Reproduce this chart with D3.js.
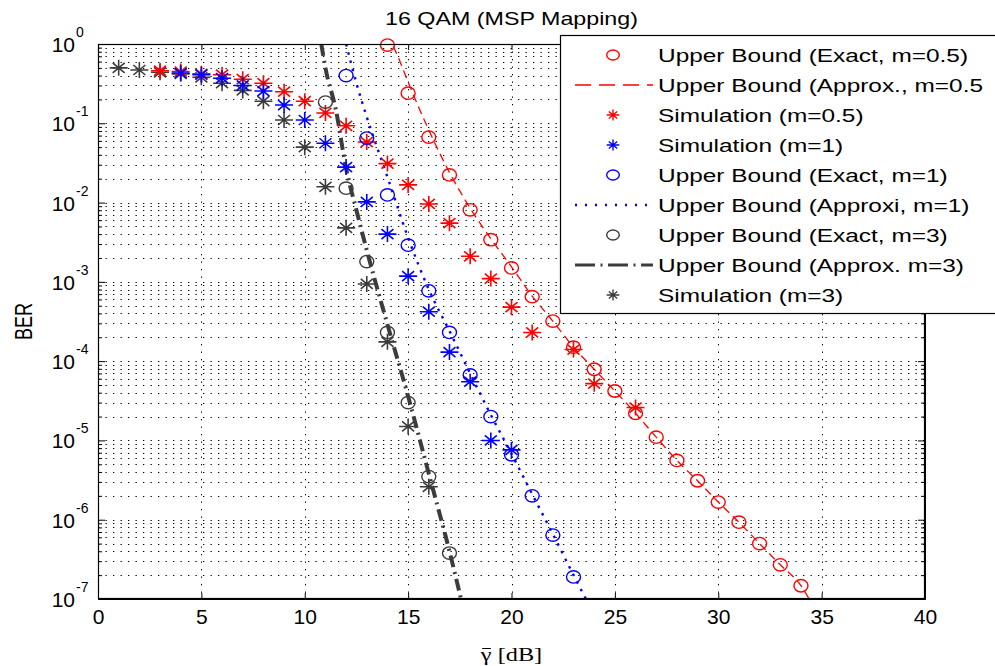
<!DOCTYPE html>
<html><head><meta charset="utf-8">
<script src="https://cdn.jsdelivr.net/npm/d3@7"></script>
<style>html,body{margin:0;padding:0;background:#fff;} svg{display:block;}</style>
</head><body><svg id="c" width="995" height="666"></svg>
<script>
// ---------- data ----------
const xTicks = [0, 5, 10, 15, 20, 25, 30, 35, 40];
const yExponents = [0, -1, -2, -3, -4, -5, -6, -7];
const minorMultipliers = [2, 3, 4, 5, 6, 7, 8, 9];

const snrExact05 = [14,15,16,17,18,19,20,21,22,23,24,25,26,27,28,29,30,31,32,33,34];
const berExact05 = [0.97,0.24,0.067,0.0223,0.0081,0.0034,0.0015,6.5e-4,3.2e-4,1.5e-4,7.9e-5,4.2e-5,2.2e-5,1.1e-5,5.6e-6,3.1e-6,1.67e-6,9.3e-7,5.0e-7,2.7e-7,1.47e-7];

const snrApprox05 = [14,14.5,15,16,17,18,19,20,21,22,23,24,25,26,27,28,29,30,31,32,33,34,34.6];
const berApprox05 = [1.3,0.7,0.33,0.082,0.024,0.0085,0.0035,0.00155,6.6e-4,3.2e-4,1.5e-4,7.9e-5,4.2e-5,2.2e-5,1.1e-5,5.6e-6,3.1e-6,1.67e-6,9.3e-7,5.0e-7,2.7e-7,1.47e-7,8e-8];

const snrSim05 = [3,4,5,6,7,8,9,10,11,12,13,14,15,16,17,18,19,20,21,23,24,26];
const berSim05 = [0.46,0.45,0.42,0.41,0.36,0.32,0.25,0.19,0.135,0.093,0.058,0.031,0.0167,0.0096,0.0055,0.0021,0.0011,4.8e-4,2.3e-4,1.4e-4,5.2e-5,2.6e-5];

const snrSim1 = [4,5,6,7,8,9,10,11,12,13,14,15,16,17,18,19,20];
const berSim1 = [0.43,0.41,0.37,0.30,0.255,0.17,0.11,0.056,0.028,0.0102,0.0040,0.00118,4.2e-4,1.3e-4,5.5e-5,1.0e-5,7.6e-6];

const snrExact1 = [12,13,14,15,16,17,18,19,20,21,22,23];
const berExact1 = [0.40,0.065,0.0125,0.0029,7.7e-4,2.3e-4,6.7e-5,2.0e-5,6.6e-6,2.0e-6,6.4e-7,1.9e-7];

const snrApprox1 = [12,12.5,13,14,15,16,17,18,19,20,21,22,23,23.6];
const berApprox1 = [1.0,0.32,0.12,0.021,0.0036,8e-4,2.4e-4,7e-5,2.1e-5,6.8e-6,2.1e-6,6.6e-7,2e-7,1e-7];

const snrExact3 = [11,12,13,14,15,16,17];
const berExact3 = [0.185,0.0152,0.0018,2.3e-4,3.0e-5,3.5e-6,3.8e-7];

const snrApprox3 = [10.8,11,11.5,12,12.5,13,14,15,16,17,17.6];
const berApprox3 = [1.0,0.5,0.15,0.027,0.008,0.0025,2.9e-4,3.6e-5,3.8e-6,4e-7,9e-8];

const snrSim3 = [1,2,3,4,5,6,7,8,9,10,11,12,13,14,15,16];
const berSim3 = [0.50,0.47,0.44,0.42,0.38,0.32,0.26,0.19,0.11,0.050,0.0158,0.0048,9.4e-4,1.75e-4,1.5e-5,2.6e-6];

const legendLabels = [
  "Upper Bound (Exact, m=0.5)",
  "Upper Bound (Approx., m=0.5",
  "Simulation (m=0.5)",
  "Simulation (m=1)",
  "Upper Bound (Exact, m=1)",
  "Upper Bound (Approxi, m=1)",
  "Upper Bound (Exact, m=3)",
  "Upper Bound (Approx. m=3)",
  "Simulation (m=3)"
];
const titleText = "16 QAM (MSP Mapping)";
const xLabelSymbol = "\u03B3";
const xLabelUnit = " [dB]";
const yLabelText = "BER";

// ---------- setup ----------
const RED = "#ff0000", BLUE = "#0000ff", GRAY = "#3c3c3c";
const SANS = "'Liberation Sans', Arial, sans-serif";
const SERIF = "'Liberation Serif','DejaVu Serif',serif";
const svg = d3.select("#c");
const M = {left: 98, right: 925, top: 44, bottom: 599};
const x = d3.scaleLinear().domain([0, 40]).range([M.left, M.right]);
const y = d3.scaleLog().domain([1e-7, 1]).range([M.bottom, M.top]);

svg.append("rect").attr("width", 995).attr("height", 666).attr("fill", "#fff");

svg.append("defs").append("clipPath").attr("id", "clip")
  .append("rect").attr("x", M.left).attr("y", M.top)
  .attr("width", M.right - M.left).attr("height", M.bottom - M.top);

const majorY = yExponents.map(e => Math.pow(10, e));
const minorY = [];
yExponents.slice(1).forEach(e => minorMultipliers.forEach(m => minorY.push(m * Math.pow(10, e))));

// grid
const grid = svg.append("g").attr("stroke", "#000").attr("stroke-width", 1)
  .attr("stroke-dasharray", "1.3,6.2").attr("fill", "none");
grid.selectAll("line.h").data(majorY.concat(minorY)).join("line").attr("class", "h")
  .attr("x1", M.left).attr("x2", M.right)
  .attr("y1", d => Math.round(y(d)) + 0.5).attr("y2", d => Math.round(y(d)) + 0.5);
grid.selectAll("line.v").data(xTicks.filter(d => d > 0 && d < 40)).join("line").attr("class", "v")
  .attr("y1", M.top).attr("y2", M.bottom)
  .attr("x1", d => Math.round(x(d)) + 0.5).attr("x2", d => Math.round(x(d)) + 0.5);

// lines
const line = d3.line().x(d => x(d[0])).y(d => y(d[1])).curve(d3.curveMonotoneX);
const zip = (a, b) => a.map((v, i) => [v, b[i]]);
const lines = svg.append("g").attr("clip-path", "url(#clip)").attr("fill", "none");
lines.append("path").datum(zip(snrApprox05, berApprox05)).attr("d", line)
  .attr("stroke", RED).attr("stroke-width", 1.3).attr("stroke-dasharray", "8,5");
lines.append("path").datum(zip(snrApprox1, berApprox1)).attr("d", line)
  .attr("stroke", BLUE).attr("stroke-width", 2.4).attr("stroke-dasharray", "2.5,6");
lines.append("path").datum(zip(snrApprox3, berApprox3)).attr("d", line)
  .attr("stroke", GRAY).attr("stroke-width", 4).attr("stroke-dasharray", "12,5,2,5");

// markers
const starPath = s => `M${-9*s},0H${9*s}M0,${-8*s}V${8*s}M${-6*s},${-5*s}L${6*s},${5*s}M${-6*s},${5*s}L${6*s},${-5*s}`;
function circles(xs, ys, color) {
  svg.append("g").selectAll("ellipse").data(zip(xs, ys)).join("ellipse")
    .attr("cx", d => x(d[0])).attr("cy", d => y(d[1])).attr("rx", 7).attr("ry", 6.2)
    .attr("fill", "none").attr("stroke", color).attr("stroke-width", 1.4);
}
function stars(xs, ys, color) {
  svg.append("g").selectAll("path").data(zip(xs, ys)).join("path")
    .attr("transform", d => `translate(${x(d[0])},${y(d[1])})`).attr("d", starPath(1))
    .attr("fill", "none").attr("stroke", color).attr("stroke-width", 1.6);
}
stars(snrSim3, berSim3, GRAY);
stars(snrSim05, berSim05, RED);
stars(snrSim1, berSim1, BLUE);
circles(snrExact05, berExact05, RED);
circles(snrExact1, berExact1, BLUE);
circles(snrExact3, berExact3, GRAY);

// axes
const axG = svg.append("g");
const xb = axG.append("g").attr("transform", `translate(0,${M.bottom})`)
  .call(d3.axisBottom(x).tickValues(xTicks).tickSizeInner(-6).tickSizeOuter(0).tickPadding(10).tickFormat(d3.format("d")));
xb.selectAll("text").attr("font-family", SANS).attr("font-size", 21).attr("fill", "#000");
axG.append("g").attr("transform", `translate(0,${M.top})`)
  .call(d3.axisTop(x).tickValues(xTicks).tickSizeInner(-6).tickSizeOuter(0).tickFormat(""));
axG.append("g").attr("transform", `translate(${M.left},0)`)
  .call(d3.axisLeft(y).tickValues(majorY).tickSizeInner(-7).tickSizeOuter(0).tickFormat(""));
axG.append("g").attr("transform", `translate(${M.left},0)`)
  .call(d3.axisLeft(y).tickValues(minorY).tickSizeInner(-4).tickSizeOuter(0).tickFormat(""));
axG.append("g").attr("transform", `translate(${M.right},0)`)
  .call(d3.axisRight(y).tickValues(majorY).tickSizeInner(-7).tickSizeOuter(0).tickFormat(""));
axG.append("g").attr("transform", `translate(${M.right},0)`)
  .call(d3.axisRight(y).tickValues(minorY).tickSizeInner(-4).tickSizeOuter(0).tickFormat(""));
axG.selectAll("path.domain").attr("stroke", "#000");
axG.selectAll(".tick line").attr("stroke", "#000");
svg.append("rect").attr("x", M.left + 0.5).attr("y", M.top + 0.5)
  .attr("width", M.right - M.left - 1).attr("height", M.bottom - M.top - 1)
  .attr("fill", "none").attr("stroke", "#000").attr("stroke-width", 1.2);

// y tick labels 10^e
const yl = svg.append("g").attr("font-family", SANS).attr("fill", "#000");
yExponents.forEach(e => {
  const ty = y(Math.pow(10, e));
  yl.append("text").attr("x", 75).attr("y", ty + 8).attr("text-anchor", "end")
    .attr("font-size", 21).text("10");
  yl.append("text").attr("x", 76).attr("y", ty - 7).attr("font-size", 14).text(String(e));
});

// title & axis labels
svg.append("text").attr("transform", `translate(${(M.left + M.right) / 2},25) scale(1.33,1)`)
  .attr("text-anchor", "middle").attr("font-family", SANS).attr("font-size", 17.5).text(titleText);

const xlg = svg.append("g").attr("transform", `translate(${(M.left + M.right) / 2},661) scale(1.35,1)`);
const xlt = xlg.append("text").attr("text-anchor", "middle").attr("font-family", SERIF)
  .attr("font-size", 18).attr("fill", "#000");
xlt.append("tspan").text(xLabelSymbol);
xlt.append("tspan").text(xLabelUnit);
const gExt = xlt.node().getExtentOfChar(0);
xlg.append("line").attr("x1", gExt.x + 1).attr("x2", gExt.x + gExt.width - 0.5)
  .attr("y1", -12.5).attr("y2", -12.5).attr("stroke", "#000").attr("stroke-width", 1);

svg.append("text").attr("transform", `translate(32,${(M.top + M.bottom) / 2}) rotate(-90) scale(1,1.3)`)
  .attr("text-anchor", "middle").attr("font-family", SANS).attr("font-size", 18).text(yLabelText);

// legend
const lg = svg.append("g");
lg.append("rect").attr("x", 560.5).attr("y", 35.5).attr("width", 460).attr("height", 278)
  .attr("fill", "#fff").attr("stroke", "#000").attr("stroke-width", 1.2);
const legendStyles = [
  {kind: "circle", color: RED},
  {kind: "line", color: RED, w: 1.5, dash: "16,8"},
  {kind: "star", color: RED},
  {kind: "star", color: BLUE},
  {kind: "circle", color: BLUE},
  {kind: "line", color: BLUE, w: 2.4, dash: "2,8"},
  {kind: "circle", color: GRAY},
  {kind: "line", color: GRAY, w: 3, dash: "20,5.5,2,5.5"},
  {kind: "star", color: GRAY}
];
legendLabels.forEach((lab, i) => {
  const cy = 55 + 30 * i;
  const st = legendStyles[i];
  if (st.kind === "circle") {
    lg.append("ellipse").attr("cx", 613).attr("cy", cy).attr("rx", 6.3).attr("ry", 5)
      .attr("fill", "none").attr("stroke", st.color).attr("stroke-width", 1.4);
  } else if (st.kind === "star") {
    lg.append("path").attr("transform", `translate(613,${cy})`).attr("d", starPath(0.7))
      .attr("fill", "none").attr("stroke", st.color).attr("stroke-width", 1.4);
  } else {
    lg.append("line").attr("x1", 575).attr("x2", 653).attr("y1", cy).attr("y2", cy)
      .attr("stroke", st.color).attr("stroke-width", st.w).attr("stroke-dasharray", st.dash);
  }
  lg.append("text").attr("transform", `translate(658,${cy + 6.5}) scale(1.32,1)`)
    .attr("font-family", SANS).attr("font-size", 18.5).attr("fill", "#000").text(lab);
});
</script></body></html>
